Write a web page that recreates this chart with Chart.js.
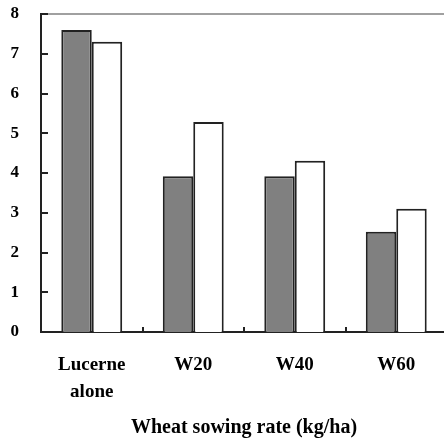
<!DOCTYPE html>
<html>
<head>
<meta charset="utf-8">
<script src="https://cdn.jsdelivr.net/npm/chart.js@4/dist/chart.umd.min.js"></script>
<style>
  html, body { margin: 0; padding: 0; background: #fff; overflow: hidden; }
  #wrap { width: 447px; height: 440px; }
</style>
</head>
<body>
<div id="wrap"><canvas id="chart" width="447" height="440"></canvas></div>
<script>
const categories = [['Lucerne', 'alone'], 'W20', 'W40', 'W60'];
const seriesGray = [7.6, 3.92, 3.92, 2.52];
const seriesWhite = [7.3, 5.28, 4.31, 3.1];
const yTicks = [0, 1, 2, 3, 4, 5, 6, 7, 8];
const xTitle = 'Wheat sowing rate (kg/ha)';

const serif = "'Liberation Serif', 'Times New Roman', serif";

// small inward tick marks + grey top frame line
const frameTicks = {
    id: 'frameTicks',
    afterDraw(chart) {
        const ctx = chart.ctx;
        const area = chart.chartArea;
        const y = chart.scales.y;
        const x = chart.scales.x;
        ctx.save();
        ctx.strokeStyle = '#a0a0a0';
        ctx.lineWidth = 2;
        ctx.beginPath();
        ctx.moveTo(area.left, area.top);
        ctx.lineTo(area.right + 10, area.top);
        ctx.stroke();

        ctx.strokeStyle = '#222';
        ctx.lineWidth = 2;
        ctx.beginPath();
        y.ticks.forEach((t, i) => {
            if (i === 0) return;
            const py = Math.round(y.getPixelForTick(i));
            ctx.moveTo(area.left, py);
            ctx.lineTo(area.left + 7, py);
        });
        for (let i = 1; i < categories.length; i++) {
            const px = Math.round((x.getPixelForValue(i - 1) + x.getPixelForValue(i)) / 2);
            ctx.moveTo(px, area.bottom);
            ctx.lineTo(px, area.bottom - 5);
        }
        ctx.stroke();
        ctx.restore();
    }
};

const ctx = document.getElementById('chart').getContext('2d');
new Chart(ctx, {
    type: 'bar',
    data: {
        labels: categories,
        datasets: [
            {
                label: 'A',
                data: seriesGray,
                backgroundColor: '#808080',
                borderColor: '#222',
                borderWidth: 2,
                borderSkipped: 'bottom',
            },
            {
                label: 'B',
                data: seriesWhite,
                backgroundColor: '#ffffff',
                borderColor: '#222',
                borderWidth: 2,
                borderSkipped: 'bottom',
            },
        ],
    },
    options: {
        responsive: false,
        animation: false,
        devicePixelRatio: 1,
        layout: {
            padding: { top: 14, right: 0, left: 0, bottom: 0 }
        },
        datasets: {
            bar: {
                categoryPercentage: 0.6,
                barPercentage: 1.0,
            }
        },
        plugins: {
            legend: { display: false },
            tooltip: { enabled: false },
        },
        scales: {
            x: {
                grid: { display: false },
                border: { display: true, color: '#222', width: 2 },
                ticks: {
                    color: '#000',
                    padding: 11,
                    maxRotation: 0,
                    autoSkip: false,
                    font: { family: serif, size: 19, weight: 'bold', lineHeight: 1.45 },
                },
                title: {
                    display: true,
                    text: xTitle,
                    color: '#000',
                    font: { family: serif, size: 20, weight: 'bold' },
                    padding: { top: 0, bottom: 0 },
                },
                afterFit(scale) { scale.height = 108; },
            },
            y: {
                min: 0,
                max: 8,
                grid: { display: false },
                border: { display: true, color: '#222', width: 2 },
                afterBuildTicks(scale) {
                    scale.ticks = yTicks.map(v => ({ value: v }));
                },
                ticks: {
                    color: '#000',
                    padding: 14,
                    font: { family: serif, size: 17, weight: 'bold' },
                },
                afterFit(scale) {
                    scale.width = 41;
                    scale.paddingTop = 0;
                    scale.paddingBottom = 0;
                },
            },
        },
    },
    plugins: [frameTicks],
});
</script>
</body>
</html>
